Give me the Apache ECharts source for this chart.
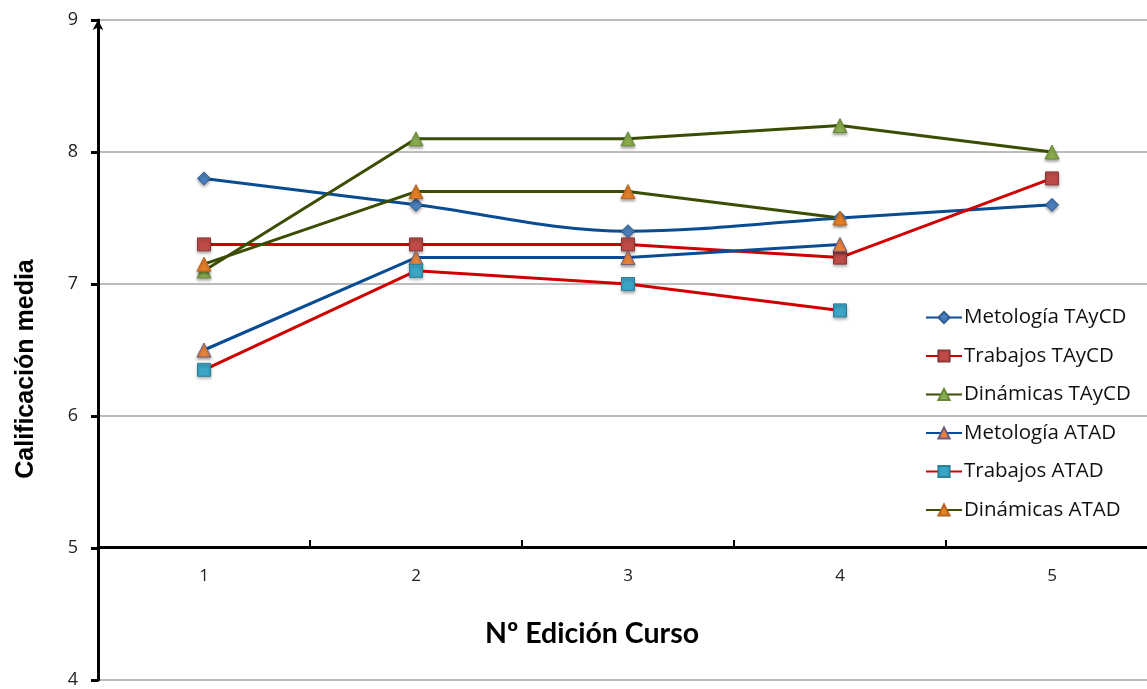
<!DOCTYPE html>
<html>
<head>
<meta charset="utf-8">
<script src="https://cdn.jsdelivr.net/npm/echarts@6/dist/echarts.min.js"></script>
<style>
html,body{margin:0;padding:0;background:#fff;overflow:hidden;width:1147px;height:689px;}
#chart{width:1162px;height:689px;}
</style>
</head>
<body>
<div id="chart"></div>
<script>
var categories = ['1', '2', '3', '4', '5'];
var yTicks = [4, 5, 6, 7, 8, 9];
var metologiaTAyCD = [7.8, 7.6, 7.4, 7.5, 7.6];
var trabajosTAyCD = [7.3, 7.3, 7.3, 7.2, 7.8];
var dinamicasTAyCD = [7.1, 8.1, 8.1, 8.2, 8.0];
var metologiaATAD = [6.5, 7.2, 7.2, 7.3, null];
var trabajosATAD = [6.35, 7.1, 7.0, 6.8, null];
var dinamicasATAD = [7.15, 7.7, 7.7, 7.5, null];
var seriesNames = ['Metología TAyCD', 'Trabajos TAyCD', 'Dinámicas TAyCD', 'Metología ATAD', 'Trabajos ATAD', 'Dinámicas ATAD'];
var xTitle = 'Nº Edición Curso';
var yTitle = 'Calificación media';

var blue = '#0A4C94', red = '#D10000', olive = '#3A4D02';
var shadow = {shadowColor: 'rgba(0,0,0,0.35)', shadowBlur: 3, shadowOffsetY: 2};

function mk(name, data, lineColor, symbol, size, fill, border, smooth) {
  return {
    name: name, type: 'line', data: data, smooth: smooth || false,
    symbol: symbol, symbolSize: size, showSymbol: true,
    lineStyle: {color: lineColor, width: 3},
    itemStyle: Object.assign({color: fill, borderColor: border, borderWidth: 1}, shadow),
    emphasis: {disabled: true}, z: 3
  };
}

var chart = echarts.init(document.getElementById('chart'));
chart.setOption({
  animation: false,
  backgroundColor: '#fff',
  grid: {left: 98, top: 20, right: 4, bottom: 0, containLabel: false},
  xAxis: {
    type: 'category', data: categories, boundaryGap: true,
    position: 'bottom', offset: -133,
    axisLine: {onZero: false, lineStyle: {color: '#000', width: 3}},
    axisTick: {show: true, inside: true, length: 7, lineStyle: {color: '#000', width: 2}},
    axisLabel: {margin: 21, color: '#222', fontSize: 17, fontFamily: 'Open Sans'},
    splitLine: {show: false}
  },
  yAxis: {
    type: 'value', min: 4, max: 9, interval: 1,
    axisLine: {show: true, symbol: ['none', 'arrow'], symbolSize: [8, 10], lineStyle: {color: '#000', width: 3}},
    axisTick: {show: true, length: 7, lineStyle: {color: '#000', width: 3}},
    axisLabel: {margin: 20, color: '#222', fontSize: 18, fontFamily: 'Open Sans',
      formatter: function (v) { return yTicks.indexOf(v) >= 0 ? String(v) : ''; }},
    splitLine: {show: true, lineStyle: {color: '#A6A6A6', width: 1.5}}
  },
  legend: {
    orient: 'vertical', left: 920, top: 302, itemGap: 17.5,
    itemWidth: 36, itemHeight: 14,
    textStyle: {fontSize: 20.5, color: '#111', fontFamily: 'Open Sans', padding: [0, 0, 0, -3]},
    data: seriesNames
  },
  graphic: [
    {type: 'text', rotation: Math.PI / 2, x: 26, y: 369,
      style: {text: yTitle, font: 'bold 25px "Liberation Sans"', fill: '#000', textAlign: 'center', textVerticalAlign: 'middle'}},
    {type: 'text', x: 592, y: 634,
      style: {text: xTitle, font: 'bold 28.5px Lato', fill: '#000', textAlign: 'center', textVerticalAlign: 'middle'}}
  ],
  series: [
    mk(seriesNames[0], metologiaTAyCD, blue, 'diamond', 13, '#4A7EBB', '#2F5A8C', 0.35),
    mk(seriesNames[1], trabajosTAyCD, red, 'rect', 13, '#BE4B48', '#8C3836'),
    mk(seriesNames[2], dinamicasTAyCD, olive, 'triangle', 14, '#8AAE4E', '#6A8A3A'),
    mk(seriesNames[3], metologiaATAD, blue, 'triangle', 14, '#E9843A', '#6E5A7E'),
    mk(seriesNames[4], trabajosATAD, red, 'rect', 13, '#3AA6C6', '#2B7F96'),
    mk(seriesNames[5], dinamicasATAD, olive, 'triangle', 14, '#E58029', '#B8651F')
  ]
});
</script>
</body>
</html>
